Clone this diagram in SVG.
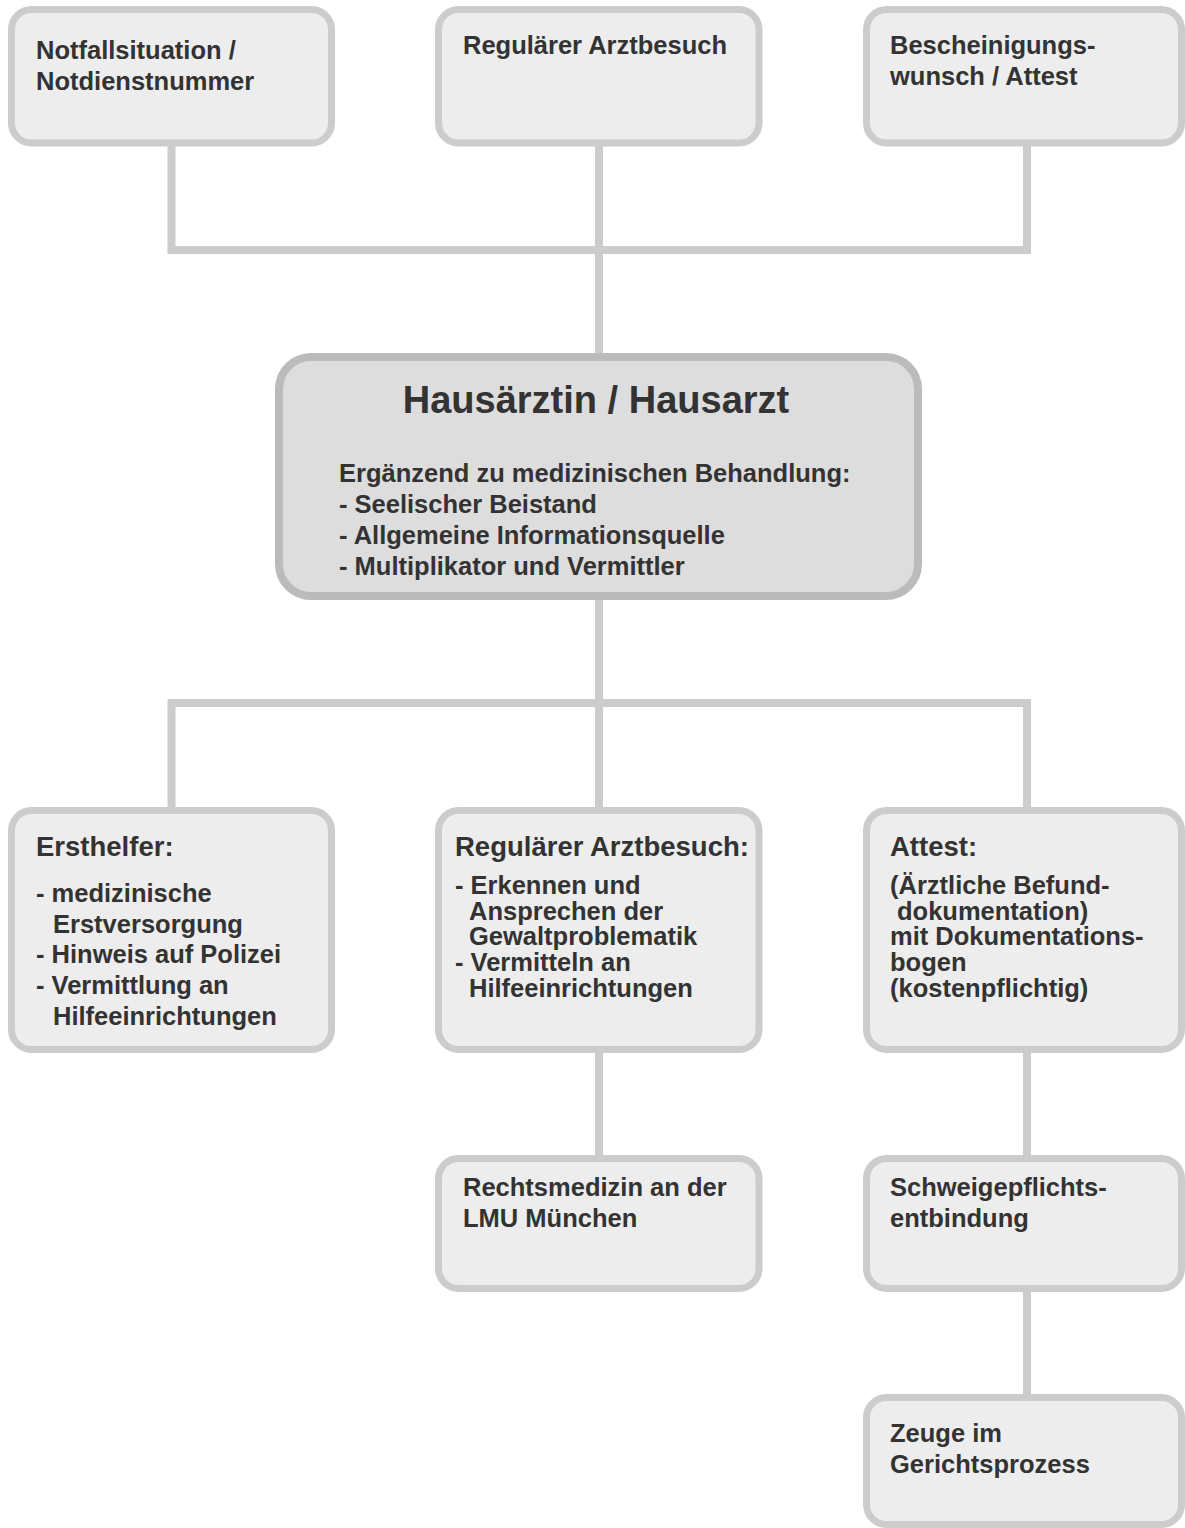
<svg xmlns="http://www.w3.org/2000/svg" width="1185" height="1528" viewBox="0 0 1185 1528">
  <style>
    .box { fill: #ededed; stroke: #cccccc; stroke-width: 7; }
    .hub { fill: #dddddd; stroke: #bbbbbb; stroke-width: 8; }
    .link { fill: none; stroke: #cccccc; stroke-width: 8; stroke-linejoin: miter; }
    text { font-family: "Liberation Sans", Arial, sans-serif; font-weight: bold; fill: #333333; font-size: 25.5px; }
    .title { font-size: 38px; text-anchor: middle; }
    .head { font-size: 27.5px; }
  </style>
  <rect width="1185" height="1528" fill="#ffffff"/>

  <!-- connectors -->
  <g id="connectors">
    <path class="link" d="M171.5,146 V250 H1027 V146"/>
    <path class="link" d="M599,146 V353"/>
    <path class="link" d="M599,600 V808"/>
    <path class="link" d="M171.5,808 V703 H1027 V808"/>
    <path class="link" d="M599,1053 V1155"/>
    <path class="link" d="M1027,1053 V1155"/>
    <path class="link" d="M1027,1292 V1395"/>
  </g>

  <!-- top row -->
  <g id="notfall">
    <rect class="box" x="11.5" y="9.5" width="320" height="133.5" rx="20"/>
    <text x="36" y="59">Notfallsituation /</text>
    <text x="36" y="90">Notdienstnummer</text>
  </g>
  <g id="arztbesuch-top">
    <rect class="box" x="438.5" y="9.5" width="320.5" height="133.5" rx="20"/>
    <text x="463" y="54">Regulärer Arztbesuch</text>
  </g>
  <g id="bescheinigung">
    <rect class="box" x="866.5" y="9.5" width="315" height="133.5" rx="20"/>
    <text x="890" y="54">Bescheinigungs-</text>
    <text x="890" y="85">wunsch / Attest</text>
  </g>

  <!-- central node -->
  <g id="hausarzt">
    <rect class="hub" x="279" y="357" width="639" height="239" rx="32"/>
    <text class="title" x="596" y="413">Hausärztin / Hausarzt</text>
    <text x="339" y="482">Ergänzend zu medizinischen Behandlung:</text>
    <text x="339" y="513">- Seelischer Beistand</text>
    <text x="339" y="544">- Allgemeine Informationsquelle</text>
    <text x="339" y="575">- Multiplikator und Vermittler</text>
  </g>

  <!-- lower row -->
  <g id="ersthelfer">
    <rect class="box" x="11.5" y="810.5" width="320" height="239" rx="20"/>
    <text class="head" x="36" y="856">Ersthelfer:</text>
    <text x="36" y="902">- medizinische</text>
    <text x="53" y="933">Erstversorgung</text>
    <text x="36" y="963">- Hinweis auf Polizei</text>
    <text x="36" y="994">- Vermittlung an</text>
    <text x="53" y="1025">Hilfeeinrichtungen</text>
  </g>
  <g id="arztbesuch">
    <rect class="box" x="438.5" y="810.5" width="320.5" height="239" rx="20"/>
    <text class="head" x="455" y="856">Regulärer Arztbesuch:</text>
    <text x="455" y="894">- Erkennen und</text>
    <text x="469" y="920">Ansprechen der</text>
    <text x="469" y="945">Gewaltproblematik</text>
    <text x="455" y="971">- Vermitteln an</text>
    <text x="469" y="997">Hilfeeinrichtungen</text>
  </g>
  <g id="attest">
    <rect class="box" x="866.5" y="810.5" width="315" height="239" rx="20"/>
    <text class="head" x="890" y="856">Attest:</text>
    <text x="890" y="894">(Ärztliche Befund-</text>
    <text x="897" y="920">dokumentation)</text>
    <text x="890" y="945">mit Dokumentations-</text>
    <text x="890" y="971">bogen</text>
    <text x="890" y="997">(kostenpflichtig)</text>
  </g>

  <!-- follow-up nodes -->
  <g id="rechtsmedizin">
    <rect class="box" x="438.5" y="1158.5" width="320.5" height="130" rx="20"/>
    <text x="463" y="1196">Rechtsmedizin an der</text>
    <text x="463" y="1227">LMU München</text>
  </g>
  <g id="schweigepflicht">
    <rect class="box" x="866.5" y="1158.5" width="315" height="130" rx="20"/>
    <text x="890" y="1196">Schweigepflichts-</text>
    <text x="890" y="1227">entbindung</text>
  </g>
  <g id="zeuge">
    <rect class="box" x="866.5" y="1397.5" width="315" height="127" rx="20"/>
    <text x="890" y="1442">Zeuge im</text>
    <text x="890" y="1473">Gerichtsprozess</text>
  </g>
</svg>
